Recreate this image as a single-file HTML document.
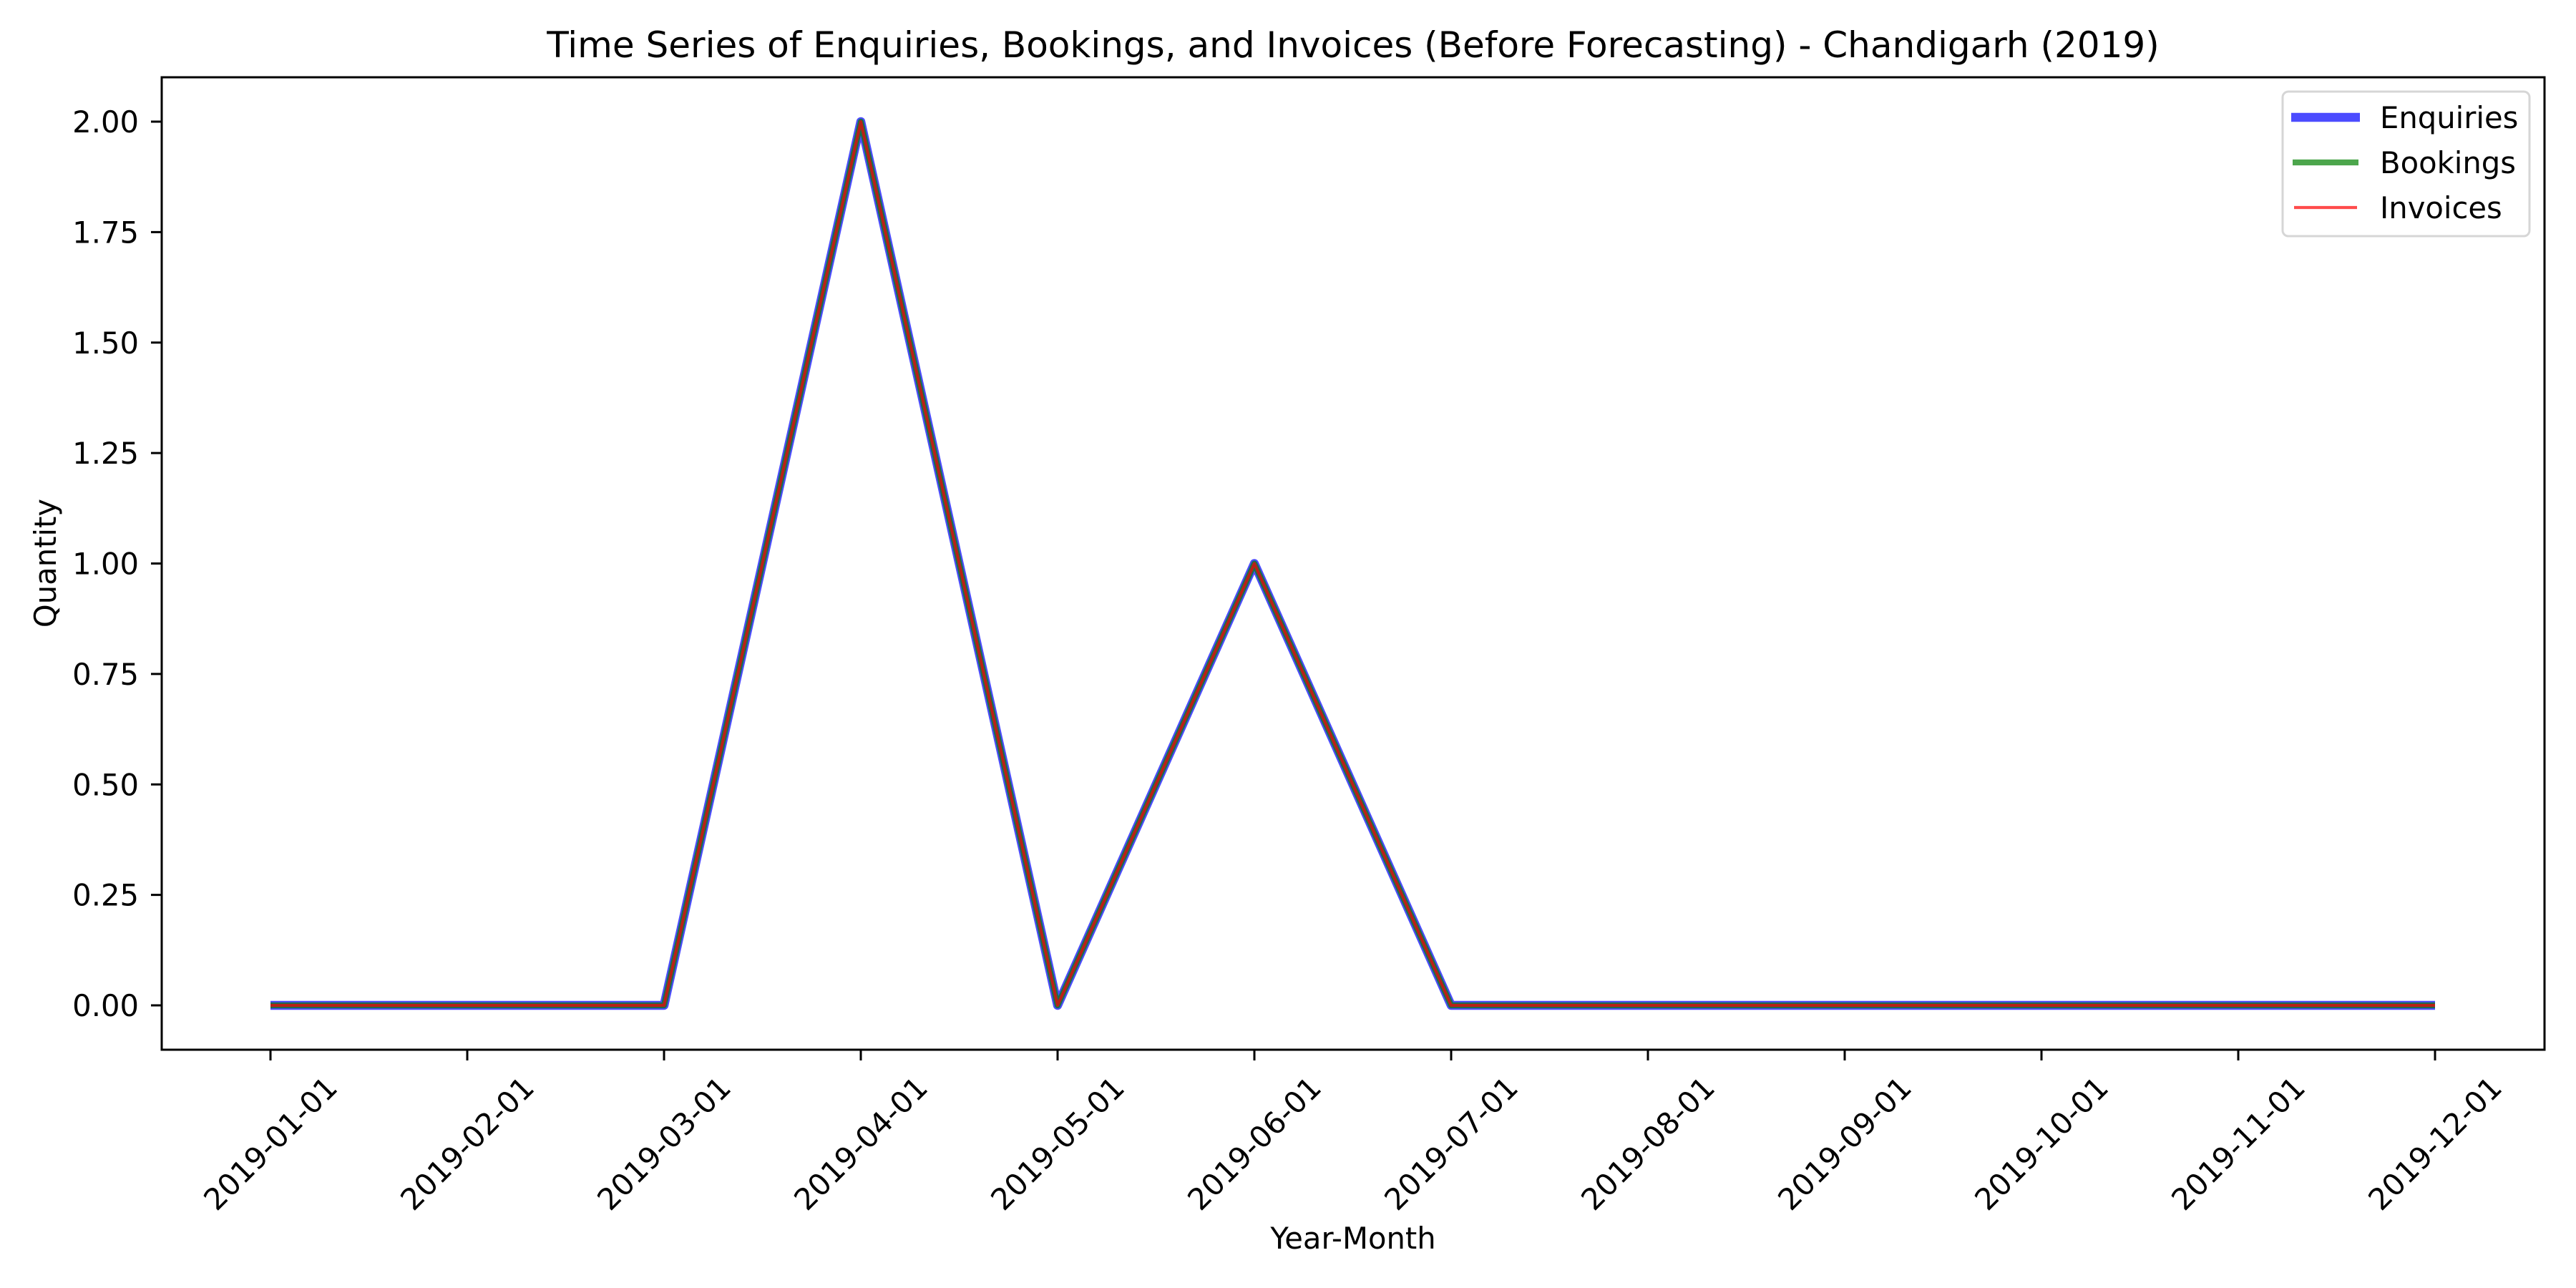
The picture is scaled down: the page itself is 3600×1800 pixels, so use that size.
<!DOCTYPE html>
<html><head><meta charset="utf-8"><style>
html,body{margin:0;padding:0;background:#fff;}
svg{display:block;font-family:"DejaVu Sans","Liberation Sans",sans-serif;}
</style></head><body>
<svg id="chart" width="3600" height="1800" viewBox="0 0 3600 1800" xmlns="http://www.w3.org/2000/svg">
<rect width="3600" height="1800" fill="#fff"/>
<text x="1891" y="80" font-size="50" text-anchor="middle">Time Series of Enquiries, Bookings, and Invoices (Before Forecasting) - Chandigarh (2019)</text>
<text transform="translate(78,787) rotate(-90)" font-size="41.7" text-anchor="middle">Quantity</text>
<text x="1891" y="1745" font-size="41.7" text-anchor="middle">Year-Month</text>
<g id="series"></g>
<rect x="226" y="108" width="3330" height="1359" fill="none" stroke="#000" stroke-width="3"/>
<g id="axes"></g>
<g>
<rect x="3190" y="128" width="345" height="202" rx="8" fill="#fff" fill-opacity="0.8" stroke="#d6d6d6" stroke-width="3"/>
<g><line x1="3202" y1="164" x2="3298" y2="164" stroke="#0000ff" stroke-opacity="0.7" stroke-width="12.5"/><text x="3326" y="179" font-size="41.7">Enquiries</text></g>
<g><line x1="3204" y1="227" x2="3296" y2="227" stroke="#008000" stroke-opacity="0.7" stroke-width="8.3"/><text x="3326" y="242" font-size="41.7">Bookings</text></g>
<g><line x1="3206" y1="290" x2="3294" y2="290" stroke="#ff0000" stroke-opacity="0.7" stroke-width="4.2"/><text x="3326" y="305" font-size="41.7">Invoices</text></g>
</g>
</svg>
<script>
const categories = ["2019-01-01","2019-02-01","2019-03-01","2019-04-01","2019-05-01","2019-06-01","2019-07-01","2019-08-01","2019-09-01","2019-10-01","2019-11-01","2019-12-01"];
const enquiries = [0,0,0,2,0,1,0,0,0,0,0,0];
const bookings = [0,0,0,2,0,1,0,0,0,0,0,0];
const invoices = [0,0,0,2,0,1,0,0,0,0,0,0];
const yTicks = [0,0.25,0.5,0.75,1,1.25,1.5,1.75,2];
const yTickLabels = ["0.00","0.25","0.50","0.75","1.00","1.25","1.50","1.75","2.00"];

const NS = "http://www.w3.org/2000/svg";
const x0 = 378, x1 = 3403;
const xScale = i => x0 + (x1 - x0) * i / (categories.length - 1);
const yScale = v => 1405 + (170 - 1405) * v / 2;
const axes = document.getElementById('axes');
const series = document.getElementById('series');
function mk(tag, attrs){const e=document.createElementNS(NS,tag);for(const k in attrs)e.setAttribute(k,attrs[k]);return e;}

yTicks.forEach((v,i)=>{
  const y=yScale(v);
  const t=mk('line',{x1:211,y1:y,x2:226,y2:y,stroke:'#000','stroke-width':3});
  
  
  axes.appendChild(t);
  const l=mk('text',{x:194,y:y+15,'font-size':41.7,'text-anchor':'end'});
  
  
  l.textContent=yTickLabels[i];
  axes.appendChild(l);
});
categories.forEach((c,i)=>{
  const x=xScale(i);
  const t=mk('line',{x1:x,y1:1467,x2:x,y2:1482,stroke:'#000','stroke-width':3});
  
  
  axes.appendChild(t);
  const l=mk('text',{transform:`translate(${x},1598) rotate(-45)`,'font-size':41.7,'text-anchor':'middle','dominant-baseline':'central'});
  
  
  l.textContent=c;
  axes.appendChild(l);
});
function drawLine(vals,color,w,name){
  const pts=vals.map((v,i)=>xScale(i)+','+yScale(v)).join(' ');
  const p=mk('polyline',{points:pts,fill:'none',stroke:color,'stroke-opacity':0.7,'stroke-width':w,'stroke-linejoin':'round'});
  
  
  series.appendChild(p);
}
drawLine(enquiries,'#0000ff',12.5,'enquiries-line');
drawLine(bookings,'#008000',8.3,'bookings-line');
drawLine(invoices,'#ff0000',4.2,'invoices-line');
</script>
</body></html>
